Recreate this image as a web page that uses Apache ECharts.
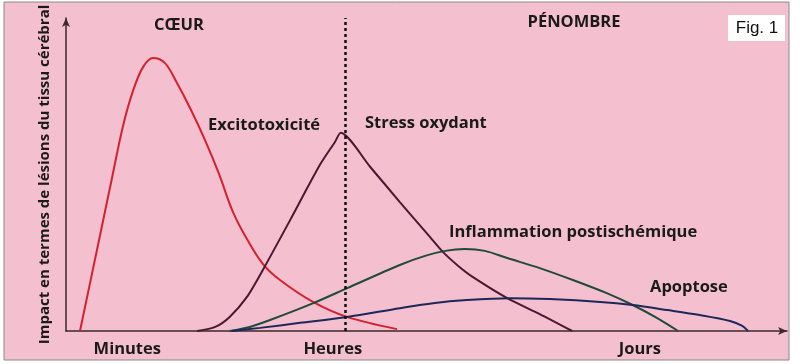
<!DOCTYPE html>
<html>
<head>
<meta charset="utf-8">
<script src="https://cdn.jsdelivr.net/npm/echarts@6/dist/echarts.min.js"></script>
<style>
  html, body { margin: 0; padding: 0; background: #fff; }
  #chart { width: 800px; height: 364px; }
</style>
</head>
<body>
<div id="chart"></div>
<script>
// x: 0..100 along the time axis, y: 0..100 impact
const excitoX = [1.94, 4.44, 6.38, 7.91, 9.29, 10.68, 12.07, 13.73, 15.40, 17.34, 19.28, 21.22, 23.16, 25.24, 27.32, 29.68, 34.26, 38.97, 45.91]
const excitoY = [0, 27.5, 48.9, 65.5, 76.7, 84.3, 87.2, 85.6, 79.2, 70.6, 61.0, 50.2, 38.0, 28.8, 21.4, 16.3, 9.3, 4.5, 0.6]

const stressX = [18.2, 20.7, 22.7, 25.1, 27.3, 31.1, 35.2, 37.3, 38.1, 42.2, 46.3, 50.5, 52.3, 54.4, 56.4, 61.2, 65.7, 70.2]
const stressY = [0, 1.3, 4.5, 10.9, 19.5, 35.5, 53.0, 60.4, 63.3, 52.4, 41.2, 30.0, 25.2, 20.8, 17.3, 10.5, 5.4, 0]

const inflamX = [22.7, 25.5, 28.3, 34.3, 39.0, 46.3, 49.8, 52.6, 55.3, 58.1, 61.2, 65.7, 70.3, 75.0, 78.6, 81.7, 84.9]
const inflamY = [0, 1.3, 3.5, 8.9, 13.7, 21.1, 24.0, 25.6, 26.2, 25.6, 23.3, 20.1, 16.3, 12.1, 8.3, 4.5, 0]

const apoptX = [23.0, 26.9, 32.5, 39.0, 46.3, 50.9, 55.6, 61.6, 67.1, 74.1, 78.6, 83.4, 87.9, 92.1, 93.8, 94.6]
const apoptY = [0, 1.0, 2.6, 4.5, 7.3, 8.9, 9.9, 10.5, 10.2, 9.3, 8.3, 6.7, 5.1, 3.2, 1.6, 0]

const boundaryX = 38.8

const xLabelPos = [8.5, 37.0, 79.6]
const xLabels = ['Minutes', 'Heures', 'Jours']

const yTitle = 'Impact en termes de lésions du tissu cérébral'

const zip = (xs, ys) => xs.map((x, i) => [x, ys[i]])

const chart = echarts.init(document.getElementById('chart'))

const boldFont = { fontFamily: 'Open Sans', fontWeight: 'bold', fontSize: 16.5, fill: '#1a1a1a' }

const makeSeries = (name, data, color, smooth) => ({
  name: name,
  type: 'line',
  data: data,
  smooth: smooth,
  symbol: 'none',
  lineStyle: { color: color, width: 2 },
  itemStyle: { color: color },
  z: 3
})

const series = [
  makeSeries('Excitotoxicité', zip(excitoX, excitoY), '#d3212e', 0.35),
  makeSeries('Stress oxydant', zip(stressX, stressY), '#4a1930', 0.25),
  makeSeries('Inflammation postischémique', zip(inflamX, inflamY), '#1f4a3c', 0.3),
  makeSeries('Apoptose', zip(apoptX, apoptY), '#1d2858', 0.3)
]

// limite coeur / penombre
series[0].markLine = {
  silent: true,
  symbol: 'none',
  label: { show: false },
  lineStyle: { color: '#111', type: [3, 3], width: 2.5 },
  data: [{ xAxis: boundaryX }]
}

const option = {
  backgroundColor: '#fff',
  animation: false,
  grid: { left: 66, right: 13, top: 18, bottom: 33 },
  xAxis: {
    type: 'value',
    min: 0,
    max: 100,
    axisLine: {
      show: true,
      symbol: ['none', 'arrow'],
      symbolSize: [6, 9],
      lineStyle: { color: '#3a2a2a', width: 1.5 }
    },
    axisTick: { show: false },
    splitLine: { show: false },
    axisLabel: {
      customValues: xLabelPos,
      margin: 10,
      fontFamily: 'Open Sans',
      fontWeight: 'bold',
      fontSize: 16.5,
      color: '#1a1a1a',
      formatter: (v) => {
        const i = xLabelPos.indexOf(v)
        return i >= 0 ? xLabels[i] : ''
      }
    }
  },
  yAxis: {
    type: 'value',
    min: 0,
    max: 100,
    name: yTitle,
    nameLocation: 'middle',
    nameRotate: 90,
    nameGap: 14,
    nameTextStyle: {
      fontFamily: 'Open Sans',
      fontWeight: 'bold',
      fontSize: 15,
      color: '#1a1a1a'
    },
    axisLine: {
      show: true,
      symbol: ['none', 'arrow'],
      symbolSize: [6, 9],
      lineStyle: { color: '#3a2a2a', width: 1.5 }
    },
    axisTick: { show: false },
    axisLabel: { show: false },
    splitLine: { show: false }
  },
  graphic: [
    {
      type: 'rect',
      z: -100,
      silent: true,
      shape: { x: 4, y: 2, width: 785, height: 358 },
      style: { fill: '#f4bfcf', stroke: '#8a8a8a', lineWidth: 1 }
    },
    {
      type: 'rect',
      shape: { x: 728, y: 15, width: 57, height: 26 },
      style: { fill: '#fff' }
    },
    {
      type: 'text', x: 757, y: 28,
      style: { text: 'Fig. 1', fontFamily: 'Liberation Sans', fontSize: 17, fill: '#111', align: 'center', verticalAlign: 'middle' }
    },
    {
      type: 'text', x: 179, y: 25,
      style: Object.assign({ text: 'CŒUR', align: 'center', verticalAlign: 'middle' }, boldFont)
    },
    {
      type: 'text', x: 574, y: 22,
      style: Object.assign({ text: 'PÉNOMBRE', align: 'center', verticalAlign: 'middle' }, boldFont)
    },
    {
      type: 'text', x: 208, y: 125,
      style: Object.assign({ text: 'Excitotoxicité', align: 'left', verticalAlign: 'middle' }, boldFont)
    },
    {
      type: 'text', x: 365, y: 123,
      style: Object.assign({ text: 'Stress oxydant', align: 'left', verticalAlign: 'middle' }, boldFont)
    },
    {
      type: 'text', x: 449, y: 232,
      style: Object.assign({ text: 'Inflammation postischémique', align: 'left', verticalAlign: 'middle' }, boldFont)
    },
    {
      type: 'text', x: 650, y: 287,
      style: Object.assign({ text: 'Apoptose', align: 'left', verticalAlign: 'middle' }, boldFont)
    }
  ],
  series: series
}

chart.setOption(option)
</script>
</body>
</html>
